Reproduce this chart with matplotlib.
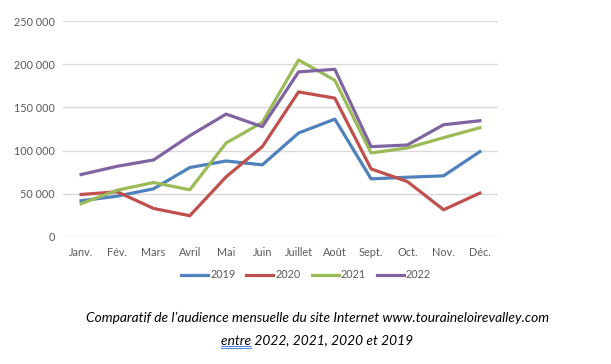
import matplotlib.pyplot as plt

months = ['Janv.', 'Fév.', 'Mars', 'Avril', 'Mai', 'Juin', 'Juillet', 'Août',
          'Sept.', 'Oct.', 'Nov.', 'Déc.']
v2019 = [41900, 47300, 55800, 80400, 88000, 83500, 120400, 136500, 67300, 69200, 70800, 98800]
v2020 = [49200, 52300, 33000, 24600, 69600, 104600, 168000, 160800, 78800, 64200, 31500, 50800]
v2021 = [38500, 54200, 63100, 54600, 108800, 132700, 205000, 181500, 97300, 103100, 115000, 126500]
v2022 = [72300, 81900, 89200, 117300, 142300, 127700, 191200, 194200, 104600, 106500, 130000, 134600]
yticks = [0, 50000, 100000, 150000, 200000, 250000]

plt.rcParams['font.family'] = ['Lato', 'DejaVu Sans']

fig = plt.figure(figsize=(6.11, 3.64), dpi=100)
ax = fig.add_axes([0.103, 0.349, 0.712, 0.593])

x = range(len(months))
ax.plot(x, v2019, color='#4F81BD', lw=2.3, label='2019')
ax.plot(x, v2020, color='#C0504D', lw=2.3, label='2020')
ax.plot(x, v2021, color='#9BBB59', lw=2.3, label='2021')
ax.plot(x, v2022, color='#8064A2', lw=2.3, label='2022')

ax.set_xlim(-0.5, len(months) - 0.5)
ax.set_ylim(0, 250000)
ax.set_xticks(list(x))
ax.set_xticklabels(months)
ax.set_yticks(yticks)
ax.set_yticklabels([f'{v:,}'.replace(',', ' ') for v in yticks])
ax.tick_params(length=0, labelsize=7.8, colors='#595959', pad=7)
ax.tick_params(axis='y', pad=6)
ax.grid(axis='y', color='#D9D9D9', lw=1)
ax.set_axisbelow(True)
for s in ax.spines.values():
    s.set_visible(False)

fig.legend(loc='center', bbox_to_anchor=(306 / 611, 1 - 275 / 364), ncol=4,
           frameon=False, fontsize=7.8, handlelength=2.5, handletextpad=0.2,
           columnspacing=1.0, labelcolor='#595959')

fig.text(318 / 611, 1 - 318 / 364,
         'Comparatif de l\u2019audience mensuelle du site Internet www.touraineloirevalley.com',
         ha='center', va='center', style='italic', fontsize=9.9)
line2 = fig.text(317 / 611, 1 - 340 / 364, 'entre 2022, 2021, 2020 et 2019',
                 ha='center', va='center', style='italic', fontsize=9.9)

# spell-check style underline below "entre"
fig.canvas.draw()
r = fig.canvas.get_renderer()
bb = line2.get_window_extent(r)
tmp = fig.text(0, 0, 'entre', style='italic', fontsize=9.9)
w = tmp.get_window_extent(r).width
tmp.remove()
W, H = fig.bbox.width, fig.bbox.height
for dy in (2.0, 4.0):
    fig.add_artist(plt.Line2D([bb.x0 / W, (bb.x0 + w) / W],
                              [(bb.y0 - dy + 2) / H, (bb.y0 - dy + 2) / H],
                              color='#2F6FE0', lw=0.6))

fig.savefig('out.png', dpi=100)
